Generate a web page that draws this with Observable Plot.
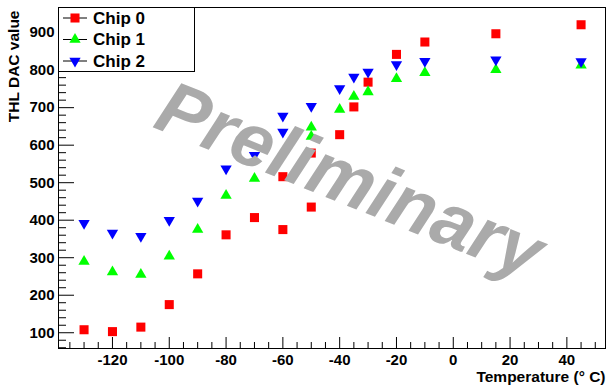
<!DOCTYPE html>
<html>
<head>
<meta charset="utf-8">
<script src="https://cdn.jsdelivr.net/npm/d3@7"></script>
<script src="https://cdn.jsdelivr.net/npm/@observablehq/plot@0.6"></script>
<style>
  html, body { margin: 0; padding: 0; background: #fff; }
  #chart { width: 607px; height: 385px; }
</style>
</head>
<body>
<div id="chart"></div>
<script>
// ---- data ----
const chip0T = [-130, -120, -110, -100, -90, -80, -70, -60, -60, -50, -50, -40, -35, -30, -20, -10, 15, 45];
const chip0V = [108, 103, 115, 175, 257, 361, 407, 516, 375, 579, 435, 628, 702, 768, 842, 875, 897, 921];
const chip1T = [-130, -120, -110, -100, -90, -80, -70, -50, -50, -40, -35, -30, -20, -10, 15, 45];
const chip1V = [290, 262, 255, 304, 375, 466, 511, 648, 623, 695, 730, 742, 777, 793, 801, 813];
const chip2T = [-130, -120, -110, -100, -90, -80, -70, -60, -60, -50, -40, -35, -30, -20, -10, 15, 45];
const chip2V = [392, 366, 357, 400, 451, 537, 573, 678, 635, 704, 751, 782, 795, 815, 824, 828, 823];
const seriesNames = ["Chip 0", "Chip 1", "Chip 2"];
const xTicks = [-120, -100, -80, -60, -40, -20, 0, 20, 40];
const yTicks = [100, 200, 300, 400, 500, 600, 700, 800, 900];
const xTitle = "Temperature (° C)";
const yTitle = "THL DAC value";
const watermark = "Preliminary";

// ---- build table ----
const toRows = (T, V, name) => T.map((t, i) => ({temp: t, value: V[i], chip: name}));
const rows0 = toRows(chip0T, chip0V, seriesNames[0]);
const rows1 = toRows(chip1T, chip1V, seriesNames[1]);
const rows2 = toRows(chip2T, chip2V, seriesNames[2]);

const colors = ["#ff0000", "#00ff00", "#0000ff"];
const triDown = {
  draw(context, size) {
    const y = -Math.sqrt(size / (Math.sqrt(3) * 3));
    context.moveTo(0, -y * 2);
    context.lineTo(-Math.sqrt(3) * y, y);
    context.lineTo(Math.sqrt(3) * y, y);
    context.closePath();
  }
};
const symbols = [d3.symbolSquare, d3.symbolTriangle, triDown];
const radii = [5.1, 4.2, 4.2];

const xMinor = d3.range(-135, 51, 5).filter(v => !xTicks.includes(v));
const yMinor = d3.range(60, 961, 20).filter(v => !yTicks.includes(v));

const font = "'Liberation Sans', Arial, Helvetica, sans-serif";
const fmt = d => String(d);

const plot = Plot.plot({
  width: 607,
  height: 385,
  marginLeft: 58,
  marginRight: 2,
  marginTop: 7,
  marginBottom: 37,
  style: {fontFamily: font, background: "#fff", overflow: "visible"},
  x: {domain: [-139, 53.6], label: null},
  y: {domain: [58, 967], label: null},
  marks: [
    Plot.frame({stroke: "#000", strokeWidth: 1}),
    Plot.axisX(xTicks, {tickSize: -11, text: null, stroke: "#000", label: null}),
    Plot.axisX(xMinor, {tickSize: -6, text: null, stroke: "#000", label: null}),
    Plot.axisX(xTicks, {tickSize: 0, tickPadding: 6, tickFormat: fmt, fontSize: 15, fontWeight: "bold", fill: "#000", label: null}),
    Plot.axisY(yTicks, {tickSize: -16, text: null, stroke: "#000", label: null}),
    Plot.axisY(yMinor, {tickSize: -8, text: null, stroke: "#000", label: null}),
    Plot.axisY(yTicks, {tickSize: 0, tickPadding: 4, tickFormat: fmt, fontSize: 15, fontWeight: "bold", fill: "#000", label: null}),
    Plot.text([xTitle], {frameAnchor: "bottom-right", textAnchor: "end", lineAnchor: "middle", dx: 0, dy: 29, fontSize: 15.5, fontWeight: "bold", fill: "#000"}),
    Plot.text([yTitle], {frameAnchor: "top-left", textAnchor: "end", lineAnchor: "middle", rotate: -90, dx: -44, dy: 3, fontSize: 15.5, fontWeight: "bold", fill: "#000"}),
    ...[rows0, rows1, rows2].map((rows, i) =>
      Plot.dot(rows, {x: "temp", y: "value", symbol: symbols[i], r: radii[i], fill: colors[i], stroke: "none"})
    ),
    Plot.text([watermark], {frameAnchor: "middle", textAnchor: "middle", lineAnchor: "middle", rotate: 22, dx: 18, dy: 3,
      fontSize: 75, fontWeight: "bold", fontStyle: "italic", fill: "#aaaaaa"})
  ]
});

document.getElementById("chart").appendChild(plot);

// ---- legend (ROOT TLegend style) ----
const svg = d3.select(plot);
const lg = svg.append("g").attr("font-family", font).attr("text-anchor", "start");
lg.append("rect").attr("x", 58.5).attr("y", 7.5).attr("width", 136).attr("height", 64)
  .attr("fill", "#fff").attr("stroke", "#000");
seriesNames.forEach((name, i) => {
  const cy = 18 + i * 21.5;
  lg.append("line").attr("x1", 63).attr("x2", 87).attr("y1", cy).attr("y2", cy).attr("stroke", "#000");
  lg.append("path").attr("transform", `translate(75,${cy})`)
    .attr("d", d3.symbol(symbols[i], Math.PI * radii[i] * radii[i])())
    .attr("fill", colors[i]);
  lg.append("text").attr("x", 93).attr("y", cy).attr("dy", "0.35em").attr("text-anchor", "start")
    .attr("font-size", 17).attr("font-weight", "bold").attr("fill", "#000").text(name);
});
</script>
</body>
</html>
